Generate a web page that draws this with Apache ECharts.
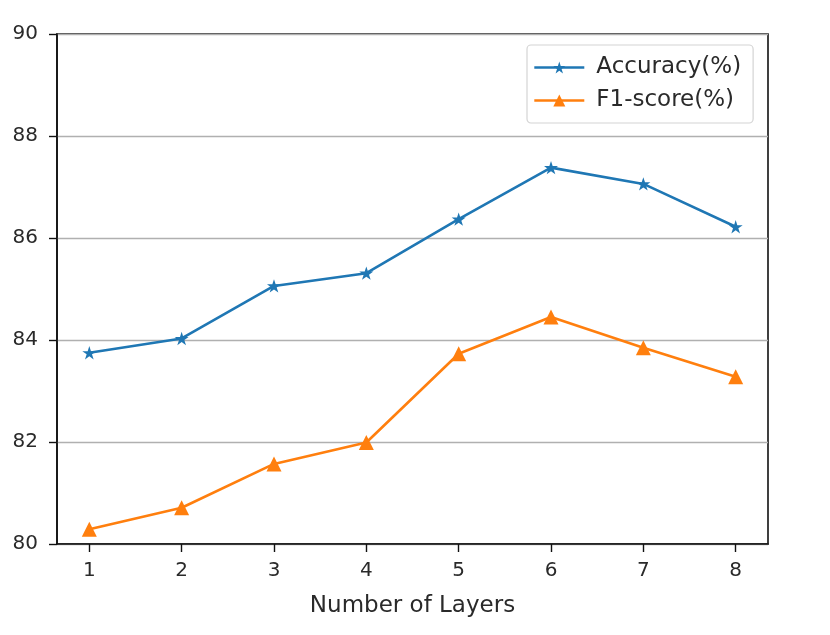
<!DOCTYPE html>
<html>
<head>
<meta charset="utf-8">
<script src="https://cdn.jsdelivr.net/npm/echarts@6/dist/echarts.min.js"></script>
<style>html,body{margin:0;padding:0;background:#fff;}#c{width:830px;height:635px;}</style>
</head>
<body>
<div id="c"></div>
<script>
const layers = [1, 2, 3, 4, 5, 6, 7, 8];
const accuracy = [83.75, 84.03, 85.06, 85.31, 86.37, 87.38, 87.06, 86.22];
const f1score = [80.29, 80.71, 81.57, 81.99, 83.73, 84.45, 83.85, 83.28];
const yTicks = [80, 82, 84, 86, 88, 90];
const seriesNames = ['Accuracy(%)', 'F1-score(%)'];

const star = 'path://M0,-100 L22.45,-30.9 L95.1,-30.9 L36.3,11.8 L58.8,80.9 L0,38.2 L-58.8,80.9 L-36.3,11.8 L-95.1,-30.9 L-22.45,-30.9 Z';
const font = 'DejaVu Sans';
const chart = echarts.init(document.getElementById('c'));
chart.setOption({
  animation: false,
  backgroundColor: '#fff',
  textStyle: { fontFamily: font },
  grid: { left: 57, right: 62, top: 34, bottom: 91, show: true, borderColor: '#111', borderWidth: 1.6, backgroundColor: 'transparent' },
  legend: {
    orient: 'vertical', left: 527, top: 45,
    padding: [11, 12, 11, 6],
    backgroundColor: '#fff', borderColor: '#d4d4d4', borderWidth: 1.2, borderRadius: 4,
    itemWidth: 50, itemHeight: 15, itemGap: 10,
    lineStyle: { width: 2.6 },
    textStyle: { fontFamily: font, fontSize: 23, color: '#2a2a2a', padding: [0, 0, 0, 7] },
    data: seriesNames
  },
  xAxis: {
    type: 'value', min: 0.65, max: 8.35,
    name: 'Number of Layers', nameLocation: 'middle', nameGap: 51,
    nameTextStyle: { fontFamily: font, fontSize: 23, color: '#2a2a2a' },
    axisLine: { show: true, lineStyle: { color: '#111', width: 1.6 } },
    axisTick: { show: true, inside: false, length: 8, customValues: layers, lineStyle: { color: '#111', width: 1.4 } },
    axisLabel: { customValues: layers, fontFamily: font, fontSize: 20, color: '#2a2a2a', margin: 17 },
    splitLine: { show: false }
  },
  yAxis: {
    type: 'value', min: 80, max: 90, interval: 2,
    axisLine: { show: true, lineStyle: { color: '#111', width: 1.6 } },
    axisTick: { show: true, length: 8, lineStyle: { color: '#111', width: 1.4 } },
    axisLabel: { customValues: yTicks, fontFamily: font, fontSize: 20, color: '#2a2a2a', margin: 19 },
    splitLine: { show: true, lineStyle: { color: '#b0b0b0', width: 1.4 } }
  },
  series: [
    {
      name: seriesNames[0], type: 'line',
      data: layers.map((x, i) => [x, accuracy[i]]),
      symbol: star, symbolSize: 14, symbolKeepAspect: true,
      itemStyle: { color: '#1f77b4', borderWidth: 0 },
      lineStyle: { color: '#1f77b4', width: 2.6 }
    },
    {
      name: seriesNames[1], type: 'line',
      data: layers.map((x, i) => [x, f1score[i]]),
      symbol: 'triangle', symbolSize: 15,
      itemStyle: { color: '#ff7f0e', borderWidth: 0 },
      lineStyle: { color: '#ff7f0e', width: 2.6 }
    }
  ]
});
</script>
</body>
</html>
